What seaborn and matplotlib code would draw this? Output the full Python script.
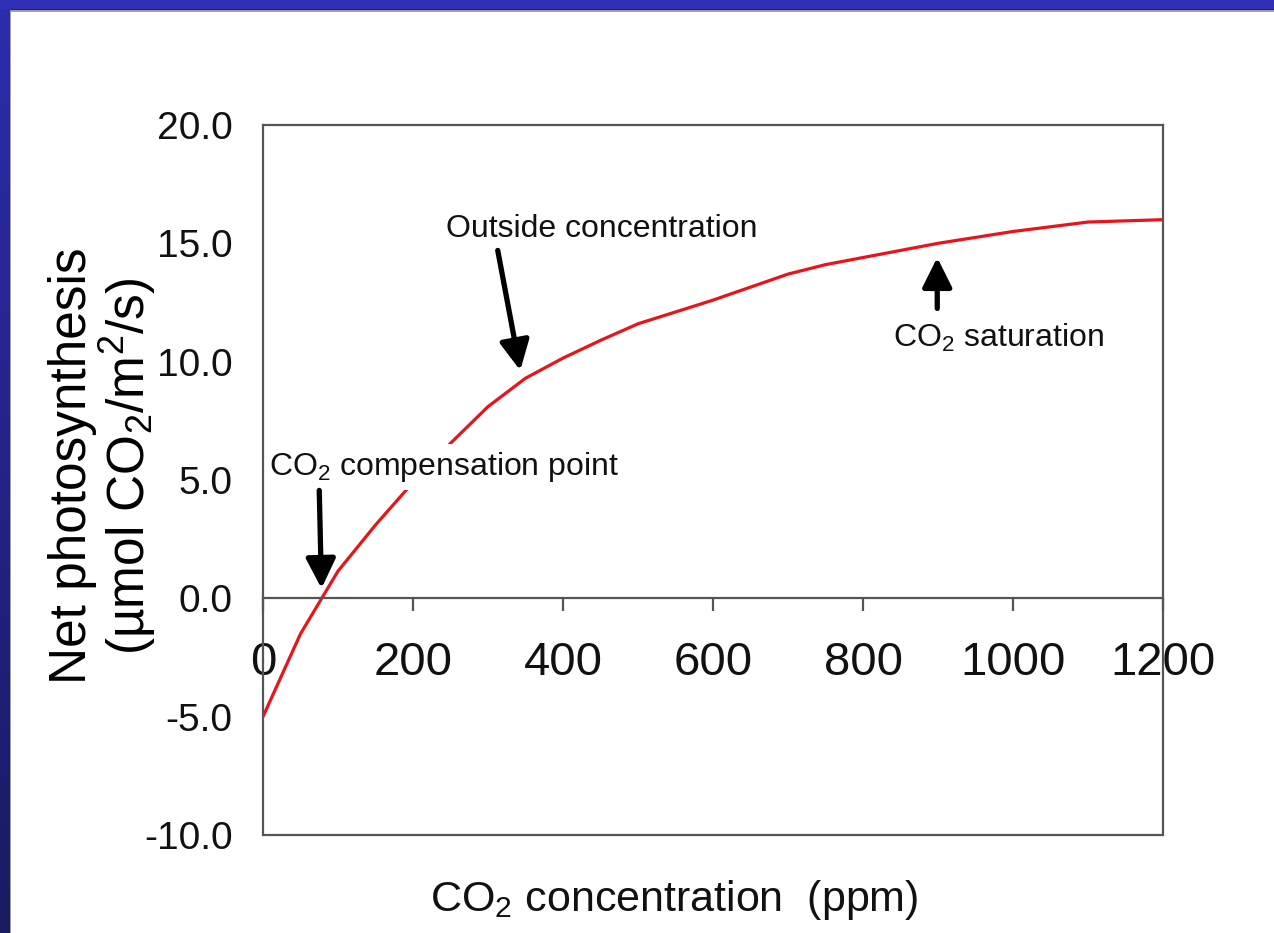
import numpy as np
import pandas as pd
import matplotlib
matplotlib.use("Agg")
import matplotlib.pyplot as plt
from matplotlib.patches import Rectangle
import seaborn as sns

# CO2 response curve of net photosynthesis
co2_ppm = [0, 50, 100, 150, 200, 250, 300, 350, 400, 450, 500, 600, 700, 750, 800, 900, 1000, 1100, 1200]
net_ps = [-5.0, -1.5, 1.15, 3.1, 4.9, 6.55, 8.1, 9.3, 10.15, 10.9, 11.6, 12.6, 13.7, 14.1, 14.4, 15.0, 15.5, 15.9, 16.0]

x_ticks = [0, 200, 400, 600, 800, 1000, 1200]
x_tick_labels = ["0", "200", "400", "600", "800", "1000", "1200"]
y_ticks = [-10, -5, 0, 5, 10, 15, 20]
y_tick_labels = ["-10.0", "-5.0", "0.0", "5.0", "10.0", "15.0", "20.0"]

df = pd.DataFrame({"co2": co2_ppm, "ps": net_ps})

sns.set_theme(style="white")
plt.rcParams["font.family"] = ["Liberation Sans", "DejaVu Sans"]
plt.rcParams["mathtext.fontset"] = "custom"
plt.rcParams["mathtext.rm"] = "Liberation Sans"
plt.rcParams["mathtext.it"] = "Liberation Sans:italic"
plt.rcParams["mathtext.bf"] = "Liberation Sans:bold"
plt.rcParams["axes.unicode_minus"] = False

W, H = 1274, 933
fig = plt.figure(figsize=(W / 100, H / 100), dpi=100, facecolor="white")

# slide frame: blue bar on top and a darkening blue bar on the left
grad_ax = fig.add_axes([0, 0, 10 / W, 1])
grad = np.linspace(0, 1, 256).reshape(-1, 1)
top_c = np.array([0x2c, 0x2c, 0xae]) / 255
bot_c = np.array([0x1a, 0x1a, 0x62]) / 255
img = top_c[None, None, :] * (1 - grad[:, :, None]) + bot_c[None, None, :] * grad[:, :, None]
grad_ax.imshow(img, aspect="auto", extent=[0, 1, 0, 1], origin="upper")
grad_ax.set_axis_off()
fig.patches.append(Rectangle((0, 1 - 9 / H), 1, 9 / H, transform=fig.transFigure,
                             facecolor="#3030b6", edgecolor="none", zorder=5))
fig.patches.append(Rectangle((10 / W, 1 - 10 / H), 1, 1 / H, transform=fig.transFigure,
                             facecolor="#20205a", edgecolor="none", zorder=5))
fig.patches.append(Rectangle((10 / W, 1 - 11.5 / H), 1, 1.5 / H, transform=fig.transFigure,
                             facecolor="#a0a0a0", edgecolor="none", zorder=5))
fig.patches.append(Rectangle((10 / W, 0), 1 / W, 1 - 10 / H, transform=fig.transFigure,
                             facecolor="#a0a0a0", edgecolor="none", zorder=5))

ax = fig.add_axes([263 / W, 1 - 835 / H, 900 / W, 710 / H])
ax.set_facecolor("white")

sns.lineplot(data=df, x="co2", y="ps", ax=ax, color="#e8141a", linewidth=2.3, zorder=2)

ax.set_xlim(0, 1200)
ax.set_ylim(-10, 20)

frame_c = "#555555"
for s in ax.spines.values():
    s.set_color(frame_c)
    s.set_linewidth(1.6)
ax.spines["bottom"].set_position(("data", 0))
# lower edge of the frame
ax.plot([0, 1], [0, 0], transform=ax.transAxes, color=frame_c, lw=1.6, clip_on=False, zorder=4)

ax.set_xticks(x_ticks)
ax.set_xticklabels(x_tick_labels)
ax.set_yticks(y_ticks)
ax.set_yticklabels(y_tick_labels)
ax.tick_params(axis="x", direction="out", length=9, width=1.6, color=frame_c,
               labelsize=34, pad=22, bottom=True)
ax.tick_params(axis="y", length=0, labelsize=28, pad=22, left=False)
for t in ax.get_xticklabels() + ax.get_yticklabels():
    t.set_color("#111111")

ax.set_xlabel(r"CO$_2$ concentration  (ppm)", fontsize=31, color="#111111")
ax.xaxis.set_label_coords(0.457, -0.061)
ax.set_ylabel("Net photosynthesis\n(\u00b5mol CO$_2$/m$^2$/s)", fontsize=37,
              color="black", linespacing=1.0)
ax.yaxis.set_label_coords(-0.117, 0.52)

arrow_kw = dict(arrowstyle="-|>,head_length=0.9,head_width=0.45", color="black",
                lw=3.8, mutation_scale=20, shrinkA=0, shrinkB=0)

# outside (ambient) concentration
ax.text(452, 15.6, "Outside concentration", fontsize=23, ha="center", va="center",
        color="#111111", zorder=5)
ax.annotate("", xy=(343, 9.63), xytext=(313, 14.7), arrowprops=arrow_kw, zorder=5)

# compensation point: white box masks the curve behind the label, frame stays on top
ax.text(8, 5.55, r"CO$_2$ compensation point", fontsize=23, ha="left", va="center",
        color="#111111", zorder=2.3,
        bbox=dict(boxstyle="square,pad=0.2", fc="white", ec="none"))
ax.annotate("", xy=(78, 0.42), xytext=(75, 4.56), arrowprops=arrow_kw, zorder=5)

# saturation
ax.text(980, 11.0, r"CO$_2$ saturation", fontsize=23, ha="center", va="center",
        color="#111111", zorder=5)
ax.annotate("", xy=(899, 14.4), xytext=(899, 12.25), arrowprops=arrow_kw, zorder=5)

fig.savefig("out.png", dpi=100, facecolor="white")
